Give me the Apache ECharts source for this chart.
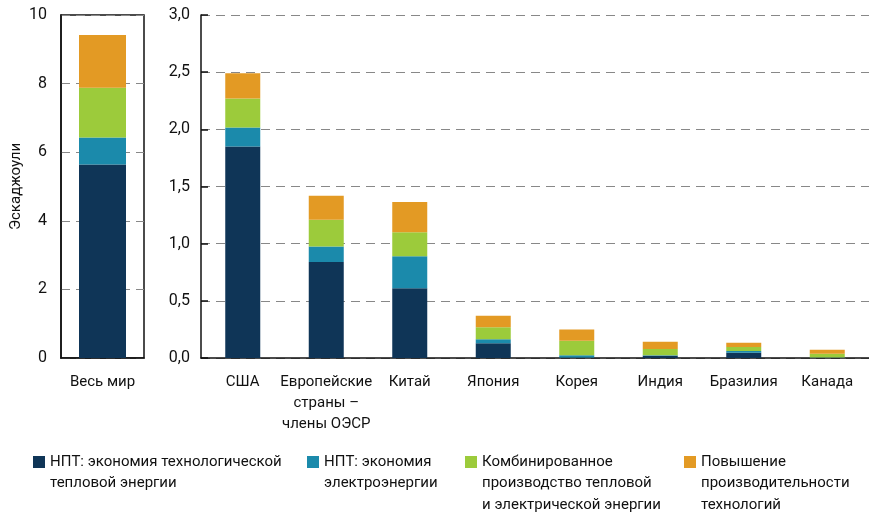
<!DOCTYPE html>
<html>
<head>
<meta charset="utf-8">
<script src="https://cdn.jsdelivr.net/npm/echarts@6/dist/echarts.min.js"></script>
<style>
  html, body { margin: 0; padding: 0; background: #fff; }
  #main { width: 869px; height: 513px; }
</style>
</head>
<body>
<div id="main"></div>
<script>
// мир — левая панель
var worldCategories = ['Весь мир'];
var worldThermal = [5.64];
var worldElectric = [0.79];
var worldChp = [1.45];
var worldTech = [1.54];

// страны — правая панель
var countryCategories = ['США', 'Европейские\nстраны –\nчлены ОЭСР', 'Китай', 'Япония', 'Корея', 'Индия', 'Бразилия', 'Канада'];
var countryThermal = [1.85, 0.84, 0.61, 0.13, 0.005, 0.02, 0.047, 0.003];
var countryElectric = [0.165, 0.135, 0.28, 0.035, 0.02, 0.004, 0.014, 0.002];
var countryChp = [0.255, 0.235, 0.21, 0.105, 0.125, 0.055, 0.035, 0.032];
var countryTech = [0.22, 0.21, 0.265, 0.10, 0.10, 0.064, 0.038, 0.036];

var leftTicks = [0, 2, 4, 6, 8, 10];
var rightTicks = [0, 0.5, 1, 1.5, 2, 2.5, 3];

var seriesNames = [
  'НПТ: экономия технологической\nтепловой энергии',
  'НПТ: экономия\nэлектроэнергии',
  'Комбинированное\nпроизводство тепловой\nи электрической энергии',
  'Повышение\nпроизводительности\nтехнологий'
];
var colors = ['#0f3557', '#1b8aab', '#9ccb3b', '#e39a24'];

var font = 'Roboto';
var LH = 21.5;

// иконка у первой строки: пустые строки сверху сдвигают центр текста
function legendFor(i, left) {
  var n = seriesNames[i].split('\n').length;
  return {
    data: [seriesNames[i]],
    left: left,
    top: 462 - (2 * n - 1) * LH / 2,
    padding: 0,
    itemWidth: 12,
    itemHeight: 12,
    icon: 'rect',
    selectedMode: false,
    formatter: function (name) {
      var pad = '';
      for (var k = 1; k < n; k++) pad += ' \n';
      return pad + name;
    },
    textStyle: { fontFamily: font, fontSize: 15, color: '#111', lineHeight: LH }
  };
}

function bars(name, color, data, xi) {
  return {
    name: name, type: 'bar', stack: 's' + xi, xAxisIndex: xi, yAxisIndex: xi,
    data: data, itemStyle: { color: color }, barWidth: xi === 0 ? 47 : 35
  };
}

var chart = echarts.init(document.getElementById('main'));
chart.setOption({
  animation: false,
  textStyle: { fontFamily: font },
  legend: [legendFor(0, 33), legendFor(1, 307), legendFor(2, 465), legendFor(3, 684)],
  grid: [
    { left: 61, width: 83, top: 15, bottom: 155, show: true, borderColor: '#111', borderWidth: 1.5 },
    { left: 201, width: 672, top: 15, bottom: 155 }
  ],
  xAxis: [
    {
      type: 'category', gridIndex: 0, data: worldCategories,
      axisLine: { lineStyle: { color: '#111', width: 1.5 } },
      axisTick: { show: false },
      axisLabel: { fontSize: 15, color: '#111', margin: 14, lineHeight: 21 }
    },
    {
      type: 'category', gridIndex: 1, data: countryCategories,
      axisLine: { lineStyle: { color: '#111', width: 1.5 } },
      axisTick: { inside: true, length: 7, lineStyle: { color: '#111', width: 1.5 } },
      axisLabel: { fontSize: 15, color: '#111', margin: 14, lineHeight: 21, interval: 0 }
    }
  ],
  yAxis: [
    {
      type: 'value', gridIndex: 0, min: leftTicks[0], max: leftTicks[leftTicks.length - 1], interval: 2,
      name: 'Эскаджоули', nameLocation: 'middle', nameGap: 37,
      nameTextStyle: { fontSize: 15, color: '#111', fontFamily: font },
      axisLine: { show: true, lineStyle: { color: '#111', width: 1.5 } },
      axisTick: { show: false },
      axisLabel: { fontSize: 16, color: '#111', margin: 14 },
      splitLine: { lineStyle: { color: '#888', type: [9, 6], width: 1.2 } }
    },
    {
      type: 'value', gridIndex: 1, min: rightTicks[0], max: rightTicks[rightTicks.length - 1], interval: 0.5,
      axisLine: { show: true, lineStyle: { color: '#111', width: 1.5 } },
      axisTick: { show: true, inside: true, length: 7, lineStyle: { color: '#111', width: 1.5 } },
      axisLabel: {
        fontSize: 16, color: '#111', margin: 11,
        formatter: function (v) { return v.toFixed(1).replace('.', ','); }
      },
      splitLine: { lineStyle: { color: '#888', type: [9, 6], width: 1.2 } }
    }
  ],
  series: [
    bars(seriesNames[0], colors[0], worldThermal, 0),
    bars(seriesNames[1], colors[1], worldElectric, 0),
    bars(seriesNames[2], colors[2], worldChp, 0),
    bars(seriesNames[3], colors[3], worldTech, 0),
    bars(seriesNames[0], colors[0], countryThermal, 1),
    bars(seriesNames[1], colors[1], countryElectric, 1),
    bars(seriesNames[2], colors[2], countryChp, 1),
    bars(seriesNames[3], colors[3], countryTech, 1)
  ]
});
</script>
</body>
</html>
